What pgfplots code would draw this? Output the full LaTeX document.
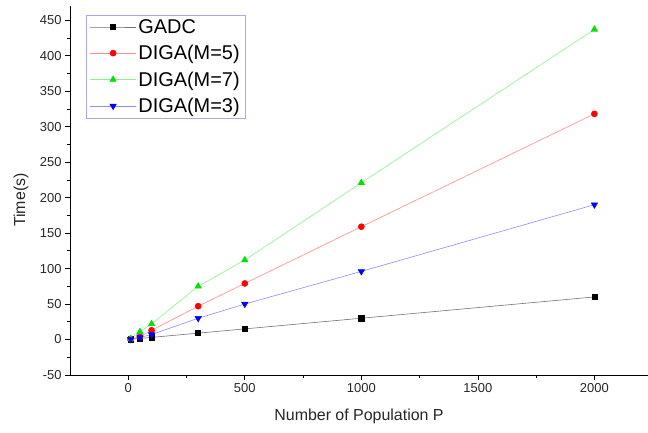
\documentclass[border=0pt]{standalone}
\usepackage{fontspec}
\setmainfont{Liberation Sans}
\usepackage{pgfplots}
\pgfplotsset{compat=1.18}
\definecolor{mgreen}{RGB}{0,225,0}
\definecolor{lgborder}{RGB}{170,170,225}
\begin{document}
\begin{tikzpicture}
\begin{axis}[
  name=main,
  anchor=south west,
  at={(0,0)},
  scale only axis,
  width=578bp, height=369bp,
  xmin=-250, xmax=2230,
  ymin=-50, ymax=470,
  xtick={0,500,1000,1500,2000},
  ytick={-50,0,50,...,450},
  minor x tick num=1,
  minor y tick num=1,
  axis lines*=left,
  axis line style={-, black, line width=0.7bp},
  tick align=outside,
  major tick length=5bp,
  minor tick length=3bp,
  tick style={black, line width=0.7bp},
  /pgf/number format/assume math mode=true,
  /pgf/number format/1000 sep={},
  ticklabel style={font=\fontsize{13}{15}\selectfont, text=black!85},
  xlabel={Number of Population P},
  ylabel={Time(s)},
  every axis x label/.style={at={(axis description cs:0.5,0)}, yshift=-41bp, anchor=center, font=\fontsize{16}{19}\selectfont, text=black!85},
  every axis y label/.style={at={(axis description cs:0,0.474)}, xshift=-49bp, rotate=90, anchor=center, font=\fontsize{16}{19}\selectfont, text=black!85},
  legend style={at={(axis description cs:0,1)}, xshift=16bp, yshift=-9bp, anchor=north west,
    draw=lgborder, line width=0.6bp, font=\fontsize{20}{22}\selectfont, inner xsep=3.5bp, inner ysep=2bp,
    row sep=6.5bp, cells={anchor=west}},
  legend image code/.code={\draw[mark repeat=2,mark phase=2] plot coordinates {(-2bp,0bp) (21bp,0bp) (44bp,0bp)};},
  clip=false,
]
\addplot[black!55, line width=0.6bp, mark=square*, mark options={black, solid, fill=black}, mark size=2.6bp]
  coordinates {(10,0.3) (50,1.5) (100,3) (300,9) (500,15) (1000,30) (2000,60)};
\addlegendentry{GADC}
\addplot[red!45, line width=0.6bp, mark=*, mark options={red, solid, fill=red}, mark size=3bp]
  coordinates {(10,0.8) (50,4) (100,13) (300,47) (500,79) (1000,159) (2000,318)};
\addlegendentry{DIGA(M=5)}
\addplot[mgreen!45, line width=0.6bp, mark=triangle*, mark options={mgreen, solid, fill=mgreen}, mark size=3.6bp]
  coordinates {(10,1.1) (50,11) (100,22) (300,75) (500,112) (1000,221) (2000,437)};
\addlegendentry{DIGA(M=7)}
\addplot[blue!45, line width=0.6bp, mark=triangle*, mark options={blue, solid, fill=blue, rotate=180}, mark size=3.6bp]
  coordinates {(10,0.5) (50,3) (100,7) (300,30) (500,50) (1000,96) (2000,190)};
\addlegendentry{DIGA(M=3)}
\end{axis}
\pgfresetboundingbox
\path[use as bounding box] (-70bp,-58bp) rectangle (578bp,375bp);
\end{tikzpicture}
\end{document}
